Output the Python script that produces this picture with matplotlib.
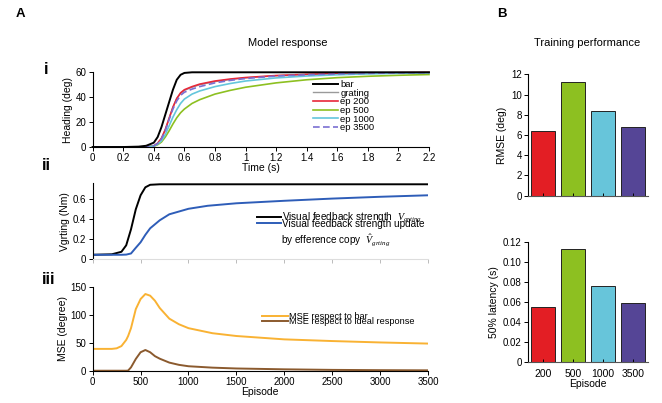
import matplotlib
matplotlib.use("Agg")
import matplotlib.pyplot as plt

plt.rcParams['font.family'] = ['Liberation Sans', 'DejaVu Sans']
plt.rcParams['mathtext.fontset'] = 'custom'
plt.rcParams['mathtext.it'] = 'Liberation Serif:italic'
plt.rcParams['mathtext.rm'] = 'Liberation Serif'

# ---------------- data ----------------
# Panel i: heading responses over time
time_s = [0, 0.1, 0.2, 0.3, 0.35, 0.4, 0.425, 0.45, 0.475, 0.5, 0.525, 0.55, 0.575,
          0.6, 0.65, 0.7, 0.8, 0.9, 1.0, 1.2, 1.4, 1.6, 1.8, 2.0, 2.2]
heading_bar = [0, 0, 0, 0.3, 1, 3.5, 8, 16, 26, 36, 46, 54, 58,
               59.5, 60, 60, 60, 60, 60, 60, 60, 60, 60, 60, 60]
heading_grating = [0, 0, 0, 0, 0.2, 1, 3, 7, 14, 23, 32, 39, 43,
                   45.5, 48, 50, 52.5, 54.2, 55.5, 57.2, 58.2, 58.9, 59.3, 59.6, 59.8]
heading_ep200 = [0, 0, 0, 0, 0.2, 1, 3, 7, 14, 23, 32, 39, 43.5,
                 46, 48.5, 50.5, 53, 54.6, 55.8, 57.4, 58.4, 59.0, 59.4, 59.7, 59.9]
heading_ep500 = [0, 0, 0, 0, 0.1, 0.6, 1.8, 4, 8, 13, 18.5, 23.5, 27.5,
                 30.5, 35, 38, 42.5, 45.5, 48, 51.5, 54, 55.7, 56.8, 57.6, 58.2]
heading_ep1000 = [0, 0, 0, 0, 0.1, 0.8, 2.3, 5, 10, 17, 24, 30, 35,
                  38.5, 42.5, 45, 48.5, 51, 53, 55.5, 57, 58, 58.7, 59.2, 59.5]
heading_ep3500 = [0, 0, 0, 0, 0.2, 1, 2.8, 6.5, 13, 22, 30.5, 37, 41.5,
                  44, 46.5, 48.5, 51.5, 53.5, 55, 57, 58, 58.7, 59.2, 59.5, 59.7]
time_ticks = [0, 0.2, 0.4, 0.6, 0.8, 1, 1.2, 1.4, 1.6, 1.8, 2, 2.2]
time_ticklabels = ['0', '0.2', '0.4', '0.6', '0.8', '1', '1.2', '1.4', '1.6', '1.8', '2', '2.2']

# Panel ii: visual feedback strength over episodes
episode_ii = [0, 200, 300, 350, 400, 450, 500, 550, 600, 700, 800, 1000, 1200,
              1500, 2000, 2500, 3000, 3500]
vgrting = [0.045, 0.05, 0.075, 0.14, 0.30, 0.50, 0.64, 0.72, 0.745, 0.75, 0.75, 0.75, 0.75,
           0.75, 0.75, 0.75, 0.75, 0.75]
vgrting_hat = [0.045, 0.045, 0.045, 0.047, 0.058, 0.115, 0.17, 0.245, 0.31, 0.39, 0.45, 0.505,
               0.535, 0.56, 0.585, 0.607, 0.625, 0.64]

# Panel iii: MSE over episodes
episode_iii = [0, 200, 250, 300, 350, 370, 400, 450, 500, 550, 600, 650, 700, 800, 900,
               1000, 1250, 1500, 2000, 2500, 3000, 3500]
mse_bar = [39, 39, 40, 44, 55, 62, 76, 110, 128, 137, 134, 125, 112, 93, 83,
           76, 67, 62, 56, 53, 50.5, 48.5]
mse_ideal = [0, 0, 0, 0, 0, 0.3, 6, 21, 33, 37, 33, 26, 21.5, 14.5, 10.5,
             8, 5.5, 4, 2.5, 1.5, 1, 0.7]
episode_ticks = [0, 500, 1000, 1500, 2000, 2500, 3000, 3500]

# Panel B: training performance
bar_episodes = ['200', '500', '1000', '3500']
rmse_deg = [6.4, 11.2, 8.4, 6.8]
latency_s = [0.055, 0.113, 0.076, 0.059]

# ---------------- styling ----------------
c_red = '#E8283A'
c_green = '#8DC021'
c_cyan = '#64C6DC'
c_purple = '#7A6FD2'
c_gray = '#9A9A9A'
bar_colors = ['#E31E24', '#8DC021', '#67C5DA', '#554596']

FS_TICK = 7
FS_LAB = 7.5

fig = plt.figure(figsize=(6.62, 4.03), dpi=100)


def style(ax):
    for s in ['top', 'right']:
        ax.spines[s].set_visible(False)
    for s in ['left', 'bottom']:
        ax.spines[s].set_linewidth(0.8)
    ax.tick_params(direction='out', length=3, width=0.7, labelsize=FS_TICK, pad=1.5)


# Panel i
ax1 = fig.add_axes([0.140, 0.6352, 0.508, 0.1854])
style(ax1)
ax1.plot(time_s, heading_bar, color='black', lw=1.4, label='bar', clip_on=False, zorder=3)
ax1.plot(time_s, heading_grating, color=c_gray, lw=1.0, label='grating', clip_on=False)
ax1.plot(time_s, heading_ep200, color=c_red, lw=1.2, label='ep 200', clip_on=False)
ax1.plot(time_s, heading_ep500, color=c_green, lw=1.2, label='ep 500', clip_on=False)
ax1.plot(time_s, heading_ep1000, color=c_cyan, lw=1.2, label='ep 1000', clip_on=False)
ax1.plot(time_s, heading_ep3500, color=c_purple, lw=1.2, ls=(0, (4, 2)), label='ep 3500',
         clip_on=False)
ax1.set_xlim(0, 2.2)
ax1.set_ylim(0, 60)
ax1.set_yticks([0, 20, 40, 60])
ax1.set_xticks(time_ticks)
ax1.set_xticklabels(time_ticklabels)
ax1.set_xlabel('Time (s)', fontsize=FS_LAB, labelpad=0)
ax1.set_ylabel('Heading (deg)', fontsize=FS_LAB, labelpad=2)
ax1.legend(loc='upper left', bbox_to_anchor=(0.655, 0.895), frameon=False, fontsize=6.8,
           labelspacing=-0.04, handlelength=2.6, handletextpad=0.3, borderpad=0,
           borderaxespad=0)

# Panel ii
ax2 = fig.add_axes([0.140, 0.3566, 0.5065, 0.1886])
style(ax2)
ax2.spines['bottom'].set_color('#DDDDDD')
ax2.tick_params(axis='x', colors='#BBBBBB', labelbottom=False)
ax2.plot(episode_ii, vgrting, color='black', lw=1.4,
         label='Visual feedback strength  $V_{grting}$')
ax2.plot(episode_ii, vgrting_hat, color='#2E5DB8', lw=1.4,
         label='Visual feedback strength update')
ax2.set_xlim(0, 3500)
ax2.set_ylim(0, 0.76)
ax2.set_xticks(episode_ticks)
ax2.set_yticks([0, 0.2, 0.4, 0.6])
ax2.set_yticklabels(['0', '0.2', '0.4', '0.6'])
ax2.tick_params(axis='y', colors='black')
ax2.set_ylabel('Vgrting (Nm)', fontsize=FS_LAB, labelpad=2)
leg2 = ax2.legend(loc='upper left', bbox_to_anchor=(0.49, 0.64), frameon=False, fontsize=7.2,
                  labelspacing=-0.6, handlelength=2.4, handletextpad=0.1, borderpad=0,
                  borderaxespad=0)
ax2.text(0.563, 0.25, 'by efference copy  $\\hat{V}_{grting}$', transform=ax2.transAxes,
         fontsize=7.2, ha='left', va='center')

# Panel iii
ax3 = fig.add_axes([0.140, 0.0801, 0.5065, 0.2084])
style(ax3)
ax3.plot(episode_iii, mse_bar, color='#F9B233', lw=1.4, label='MSE respect to bar')
ax3.plot(episode_iii, mse_ideal, color='#8B5A2E', lw=1.4, label='MSE respect to ideal response')
ax3.set_xlim(0, 3500)
ax3.set_ylim(0, 150)
ax3.set_xticks(episode_ticks)
ax3.set_yticks([0, 50, 100, 150])
ax3.set_xlabel('Episode', fontsize=FS_LAB, labelpad=0)
ax3.set_ylabel('MSE (degree)', fontsize=FS_LAB, labelpad=2)
ax3.legend(loc='upper left', bbox_to_anchor=(0.505, 0.70), frameon=False, fontsize=6.6,
           labelspacing=-0.4, handlelength=2.8, handletextpad=0.1, borderpad=0,
           borderaxespad=0)

# Panel B top
xpos = list(range(len(bar_episodes)))
axb1 = fig.add_axes([0.7976, 0.5144, 0.1813, 0.3012])
style(axb1)
axb1.bar(xpos, rmse_deg, width=0.78, color=bar_colors, edgecolor='#222222', linewidth=0.7)
axb1.set_xlim(-0.5, 3.5)
axb1.set_ylim(0, 12)
axb1.set_yticks([0, 2, 4, 6, 8, 10, 12])
axb1.set_xticks(xpos)
axb1.tick_params(axis='x', direction='in', labelbottom=False, length=2)
axb1.spines['bottom'].set_color('#555555')
axb1.set_ylabel('RMSE (deg)', fontsize=FS_LAB, labelpad=3)

# Panel B bottom
axb2 = fig.add_axes([0.7976, 0.1010, 0.1813, 0.2978])
style(axb2)
axb2.bar(xpos, latency_s, width=0.78, color=bar_colors, edgecolor='#222222', linewidth=0.7)
axb2.set_xlim(-0.5, 3.5)
axb2.set_ylim(0, 0.12)
axb2.set_yticks([0, 0.02, 0.04, 0.06, 0.08, 0.10, 0.12])
axb2.set_yticklabels(['0', '0.02', '0.04', '0.06', '0.08', '0.10', '0.12'])
axb2.set_xticks(xpos)
axb2.set_xticklabels(bar_episodes)
axb2.tick_params(axis='x', direction='in', length=2, pad=5, labelsize=7.5)
axb2.spines['bottom'].set_color('#555555')
axb2.set_xlabel('Episode', fontsize=FS_LAB, labelpad=0)
axb2.set_ylabel('50% latency (s)', fontsize=FS_LAB, labelpad=3)

# Titles and panel letters
fig.text(288 / 662, 1 - 43 / 403, 'Model response', ha='center', va='center', fontsize=8)
fig.text(587 / 662, 1 - 43 / 403, 'Training performance', ha='center', va='center', fontsize=8)
fig.text(20 / 662, 1 - 14 / 403, 'A', ha='center', va='center', fontsize=9.5, fontweight='bold')
fig.text(502 / 662, 1 - 14 / 403, 'B', ha='center', va='center', fontsize=9.5, fontweight='bold')
fig.text(44 / 662, 1 - 70 / 403, 'i', ha='left', va='center', fontsize=12, fontweight='bold')
fig.text(42 / 662, 1 - 165 / 403, 'ii', ha='left', va='center', fontsize=12, fontweight='bold')
fig.text(42 / 662, 1 - 280 / 403, 'iii', ha='left', va='center', fontsize=12, fontweight='bold')

fig.savefig('out.png', dpi=100)
